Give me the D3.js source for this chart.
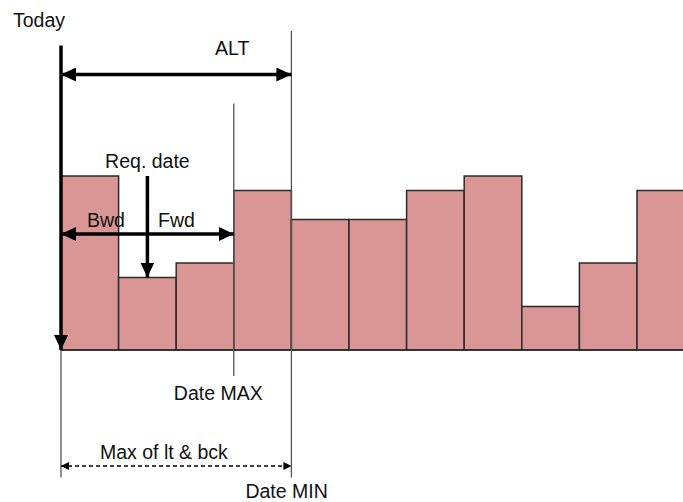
<!DOCTYPE html>
<html lang="en">
<head>
<meta charset="UTF-8">
<title>ALT / Date window diagram</title>
<script src="https://d3js.org/d3.v7.min.js"></script>
<style>
  body { margin: 0; background: #fff; }
  text { font-family: Arial, "Liberation Sans", sans-serif; font-size: 19.5px; fill: #111; }
</style>
</head>
<body>
<div id="chart"></div>
<script>
  // Time buckets (today = slot 0) and the quantity in each bucket
  const slots = [0, 1, 2, 3, 4, 5, 6, 7, 8, 9, 10];
  const values = [6, 2.5, 3, 5.5, 4.5, 4.5, 5.5, 6, 1.5, 3, 5.5];

  // Annotation anchors (slot index, value level)
  const todaySlot = 0, reqSlot = 1, maxSlot = 3, minSlot = 4;
  const altLevel = 9.5, windowLevel = 4;

  const W = 683, H = 502;
  const svg = d3.select("#chart").append("svg")
    .attr("width", W).attr("height", H);

  const x = d3.scaleBand().domain(slots).range([61, 61 + 57.6 * slots.length]).padding(0);
  const y = d3.scaleLinear().domain([0, 12]).range([350, 2]);
  const bw = x.bandwidth();

  // arrow markers
  const defs = svg.append("defs");
  function marker(id, w, h) {
    defs.append("marker")
      .attr("id", id).attr("viewBox", `0 0 ${w} ${h}`)
      .attr("refX", w).attr("refY", h / 2)
      .attr("markerWidth", w).attr("markerHeight", h)
      .attr("markerUnits", "userSpaceOnUse")
      .attr("orient", "auto-start-reverse")
      .append("path").attr("d", `M0,0L${w},${h / 2}L0,${h}Z`).attr("fill", "#000");
  }
  marker("big", 15, 14);
  marker("small", 8, 8);

  // bars
  svg.selectAll("rect.bar")
    .data(values)
    .join("rect")
      .attr("class", "bar")
      .attr("x", (d, i) => x(slots[i]))
      .attr("y", d => y(d))
      .attr("width", bw)
      .attr("height", d => y(0) - y(d))
      .attr("fill", "#d99694")
      .attr("stroke", "#2a2a2a")
      .attr("stroke-width", 1.5);

  // baseline
  svg.append("line")
    .attr("x1", x(0)).attr("x2", W)
    .attr("y1", y(0)).attr("y2", y(0))
    .attr("stroke", "#2a2a2a").attr("stroke-width", 1.5);

  const xToday = x(todaySlot), xMax = x(maxSlot), xMin = x(minSlot);
  const xReq = x(reqSlot) + bw / 2;

  // thin reference lines
  const thin = [
    [xToday, y(0), y(-4.4)],
    [xMin, y(11), y(-4.4)],
    [xMax, y(8.5), y(-0.9)]
  ];
  svg.selectAll("line.ref")
    .data(thin)
    .join("line")
      .attr("class", "ref")
      .attr("x1", d => d[0]).attr("x2", d => d[0])
      .attr("y1", d => d[1]).attr("y2", d => d[2])
      .attr("stroke", "#555").attr("stroke-width", 1.3);

  // Today arrow (down)
  svg.append("line")
    .attr("x1", xToday).attr("x2", xToday)
    .attr("y1", y(10.5)).attr("y2", y(0))
    .attr("stroke", "#000").attr("stroke-width", 3.5)
    .attr("marker-end", "url(#big)");

  // ALT double arrow
  svg.append("line")
    .attr("x1", xToday).attr("x2", xMin)
    .attr("y1", y(altLevel)).attr("y2", y(altLevel))
    .attr("stroke", "#000").attr("stroke-width", 3.5)
    .attr("marker-start", "url(#big)").attr("marker-end", "url(#big)");

  // Bwd / Fwd double arrow
  svg.append("line")
    .attr("x1", xToday).attr("x2", xMax)
    .attr("y1", y(windowLevel)).attr("y2", y(windowLevel))
    .attr("stroke", "#000").attr("stroke-width", 3.5)
    .attr("marker-start", "url(#big)").attr("marker-end", "url(#big)");

  // Req. date arrow
  svg.append("line")
    .attr("x1", xReq).attr("x2", xReq)
    .attr("y1", y(6)).attr("y2", y(values[reqSlot]))
    .attr("stroke", "#000").attr("stroke-width", 3.5)
    .attr("marker-end", "url(#big)");

  // dashed "Max of lt & bck" arrow
  svg.append("line")
    .attr("x1", xToday).attr("x2", xMin)
    .attr("y1", y(-4)).attr("y2", y(-4))
    .attr("stroke", "#000").attr("stroke-width", 1.5)
    .attr("stroke-dasharray", "4,3")
    .attr("marker-start", "url(#small)").attr("marker-end", "url(#small)");

  // labels
  const labels = [
    { t: "Today", x: 13, y: 27, a: "start" },
    { t: "ALT", x: (xToday + xMin) / 2 + 56, y: 55, a: "middle" },
    { t: "Req. date", x: xReq, y: 168, a: "middle" },
    { t: "Bwd", x: 87, y: 227, a: "start" },
    { t: "Fwd", x: 158, y: 227, a: "start" },
    { t: "Date MAX", x: xMax - 60, y: 400, a: "start" },
    { t: "Max of lt & bck", x: 100, y: 459, a: "start" },
    { t: "Date MIN", x: xMin - 46, y: 498, a: "start" }
  ];
  svg.selectAll("text.lbl")
    .data(labels)
    .join("text")
      .attr("class", "lbl")
      .attr("x", d => d.x).attr("y", d => d.y)
      .attr("text-anchor", d => d.a)
      .text(d => d.t);
</script>
</body>
</html>
